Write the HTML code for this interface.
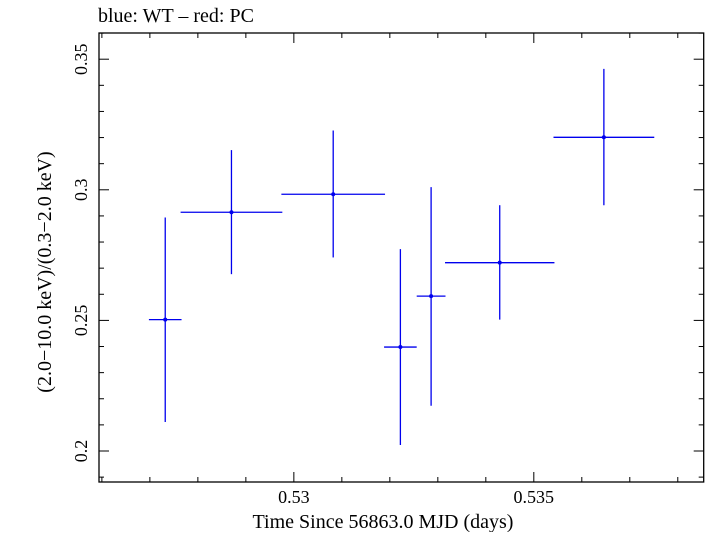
<!DOCTYPE html>
<html><head><meta charset="utf-8"><style>
body{margin:0;background:#fff}
svg text{font-family:"Liberation Serif",serif;fill:#000}
</style></head><body>
<svg id="chart" width="705" height="532" xmlns="http://www.w3.org/2000/svg">
<text x="98" y="22" font-size="20">blue: WT – red: PC</text>
<rect x="99" y="33" width="604.7" height="449" fill="none" stroke="#000" stroke-width="1.3"/>
<g id="ticks"></g>
<g id="marks"></g>
<text x="383" y="528" font-size="20" text-anchor="middle">Time Since 56863.0 MJD (days)</text>
<text transform="translate(51,272) rotate(-90)" font-size="20" text-anchor="middle">(2.0−10.0 keV)/(0.3−2.0 keV)</text>
</svg>
<script>
const xValues=[0.52732,0.52870,0.53082,0.53222,0.53286,0.53429,0.53646];
const xErrors=[0.00034,0.00106,0.00108,0.00034,0.00030,0.00114,0.00105];
const yValues=[0.2503,0.2914,0.2983,0.2398,0.2593,0.2721,0.3201];
const yUpper=[0.2894,0.3152,0.3227,0.2773,0.3010,0.2941,0.3463];
const yLower=[0.2111,0.2677,0.2741,0.2023,0.2173,0.2503,0.2941];
const xTickLabels=["0.53","0.535"];
const yTickLabels=["0.2","0.25","0.3","0.35"];
const L=99,R=703.7,T=33,B=482;
const X0=0.52594,X1=0.53854,Y0=0.18813,Y1=0.36003;
const sx=v=>L+(v-X0)/(X1-X0)*(R-L);
const sy=v=>B-(v-Y0)/(Y1-Y0)*(B-T);
const NS="http://www.w3.org/2000/svg";
function mk(tag,attrs,parent){const e=document.createElementNS(NS,tag);for(const k in attrs)e.setAttribute(k,attrs[k]);parent.appendChild(e);return e;}
const tg=document.getElementById('ticks'),mg=document.getElementById('marks');
for(let i=0;i<=13;i++){const v=0.526+i*0.001;if(v>X1)break;const x=sx(v);const major=Math.abs(v*1000-Math.round(v*200)*5)<1e-6;const len=major?10:5;
 let t=mk('line',{x1:x,x2:x,y1:B,y2:B-len,stroke:'#000','stroke-width':1},tg);
 
 
 t=mk('line',{x1:x,x2:x,y1:T,y2:T+len,stroke:'#000','stroke-width':1},tg);
 
 }
xTickLabels.forEach(s=>{const t=mk('text',{x:sx(parseFloat(s)),y:503,'font-size':18,'text-anchor':'middle'},tg);t.textContent=s;
 
 });
for(let i=19;i<=36;i++){const v=i/100;const y=sy(v);const major=i%5==0;const len=major?10:5;
 let t=mk('line',{x1:L,x2:L+len,y1:y,y2:y,stroke:'#000','stroke-width':1},tg);
 
 
 t=mk('line',{x1:R,x2:R-len,y1:y,y2:y,stroke:'#000','stroke-width':1},tg);
 
 }
yTickLabels.forEach(s=>{const y=sy(parseFloat(s));const t=mk('text',{transform:`translate(87,${y}) rotate(-90)`,'font-size':18,'text-anchor':'middle'},tg);t.textContent=s;
 
 });
xValues.forEach((xv,i)=>{const g=mk('g',{},mg);
 
 
 mk('line',{x1:sx(xv-xErrors[i]),x2:sx(xv+xErrors[i]),y1:sy(yValues[i]),y2:sy(yValues[i]),stroke:'#0000ee','stroke-width':1.3},g);
 mk('line',{x1:sx(xv),x2:sx(xv),y1:sy(yUpper[i]),y2:sy(yLower[i]),stroke:'#0000ee','stroke-width':1.3},g);
 mk('circle',{cx:sx(xv),cy:sy(yValues[i]),r:2,fill:'#0000ee'},g);});
</script>
</body></html>
